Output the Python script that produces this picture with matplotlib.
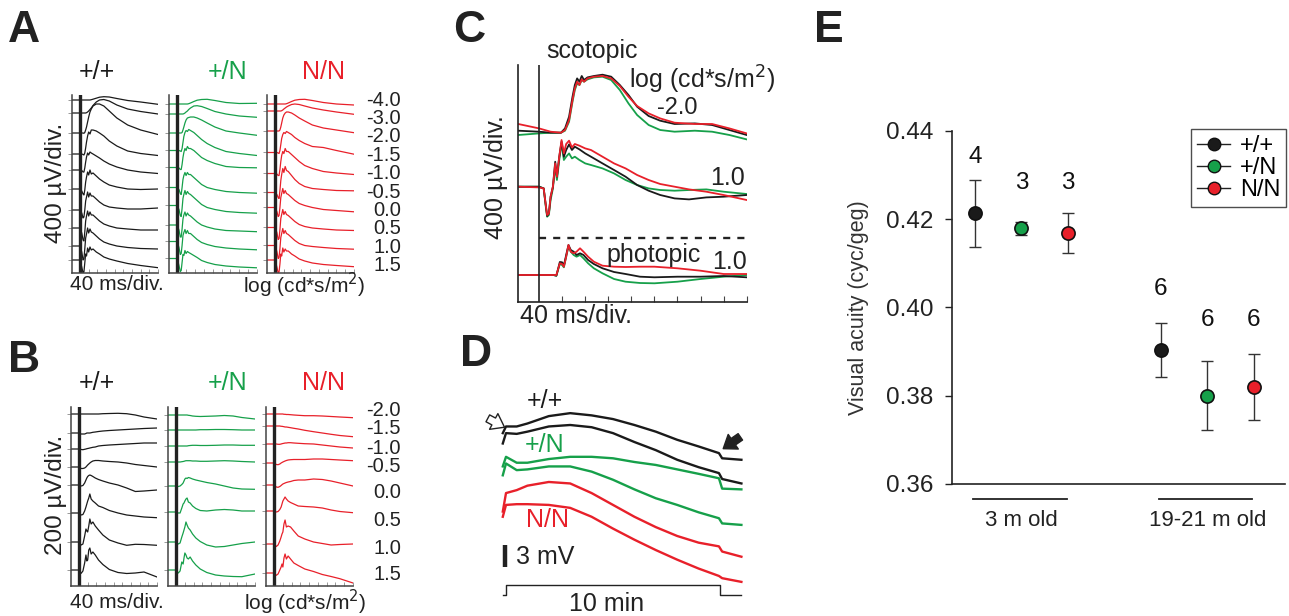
import numpy as np
import matplotlib
matplotlib.use("Agg")
import matplotlib.pyplot as plt
from matplotlib.lines import Line2D

plt.rcParams['font.family'] = ['Liberation Sans', 'DejaVu Sans']

W, H = 1289, 616
BLACK, GREEN, RED = "#1a1a1a", "#16a04a", "#e8202a"
genotypes = ["+/+", "+/N", "N/N"]

# ── A: scotopic ERG, 400 µV/div ────────────────────────────────────────────
tA = [-37, 0, 8, 14, 18, 22, 26, 30, 35, 40, 46, 52, 60, 75, 90, 110, 135, 170, 220, 280, 360]
intens_A = ["-4.0", "-3.0", "-2.0", "-1.5", "-1.0", "-0.5", "0.0", "0.5", "1.0", "1.5"]
offA_wt = [3460, 3200, 2800, 2380, 2060, 1680, 1260, 900, 540, 260]
offA_het = [3380, 3180, 2800, 2450, 2110, 1710, 1350, 960, 630, 290]
offA_hom = [3380, 3240, 2840, 2410, 1990, 1610, 1310, 910, 550, 260]
A_wt = [
    [0, 0, 0, 0, 0, 0, 0, 0, 0, 0, 0, 6, 16, 36, 56, 66, 60, 30, -10, -40, -86],
    [0, 0, 0, 0, 0, 0, 0, 6, 20, 40, 70, 100, 150, 220, 260, 270, 240, 160, 80, 30, -20],
    [0, 0, 0, 0, -6, 10, 60, 120, 220, 320, 420, 480, 540, 580, 580, 540, 440, 300, 160, 60, -30],
    [0, 0, 0, -10, -20, 20, 120, 240, 360, 440, 400, 480, 480, 460, 420, 360, 260, 160, 60, 10, -30],
    [0, 0, -10, -40, -40, 40, 160, 260, 340, 300, 360, 340, 320, 280, 240, 180, 120, 60, 0, -40, -70],
    [0, 0, -40, -100, -120, -20, 140, 240, 340, 280, 380, 300, 320, 260, 200, 140, 80, 40, 0, -10, 0],
    [0, 0, -60, -160, -140, 0, 180, 260, 360, 260, 340, 280, 280, 220, 160, 100, 60, 40, 20, 20, 40],
    [0, 0, -100, -240, -260, -80, 140, 240, 340, 240, 320, 260, 260, 200, 140, 80, 40, 0, -20, -40, -40],
    [0, 0, -120, -280, -260, -60, 160, 240, 360, 260, 340, 280, 260, 200, 140, 80, 40, 0, -30, -50, -60],
    [0, 0, -140, -260, -240, -60, 120, 80, 240, 160, 260, 200, 220, 160, 120, 60, 20, -20, -70, -110, -154],
]
A_het = [
    [0, 0, 0, 0, 0, 0, 0, 0, 0, 0, 0, 6, 20, 50, 76, 90, 94, 70, 30, 10, 14],
    [0, 0, 0, 0, 0, 0, 0, 6, 20, 40, 60, 90, 120, 160, 166, 150, 110, 50, 0, -40, -66],
    [0, 0, 0, 0, 0, 10, 60, 120, 200, 260, 300, 310, 320, 320, 300, 260, 200, 120, 40, 0, -46],
    [0, 0, 0, -10, -20, 40, 160, 280, 360, 400, 380, 420, 400, 360, 300, 220, 140, 60, -20, -60, -100],
    [0, 0, -10, -40, -40, 60, 200, 300, 380, 340, 420, 380, 380, 340, 280, 200, 140, 80, 20, 0, -6],
    [0, 0, -40, -120, -140, 0, 160, 240, 300, 240, 300, 260, 260, 200, 140, 60, 0, -40, -80, -100, -114],
    [0, 0, -80, -200, -220, -60, 140, 220, 300, 220, 280, 240, 220, 160, 100, 20, -40, -80, -120, -140, -154],
    [0, 0, -100, -240, -240, -80, 120, 200, 260, 180, 240, 200, 180, 120, 60, 0, -40, -80, -110, -120, -134],
    [0, 0, -120, -260, -240, -80, 120, 180, 240, 160, 220, 160, 160, 100, 40, -20, -60, -100, -130, -150, -166],
    [0, 0, -140, -260, -240, -80, 80, 60, 160, 100, 140, 120, 100, 60, 20, -40, -80, -120, -150, -170, -186],
]
A_hom = [
    [0, 0, 0, 0, 0, 0, 0, 0, 0, 0, 0, 6, 20, 50, 76, 90, 94, 70, 30, 0, -20],
    [0, 0, 0, 0, 0, 0, 0, 6, 20, 40, 60, 80, 100, 130, 140, 130, 100, 60, 20, -20, -66],
    [0, 0, 0, 0, 0, 20, 80, 160, 260, 320, 360, 380, 380, 360, 320, 260, 200, 120, 60, 20, -34],
    [0, 0, 0, -10, -20, 40, 160, 280, 360, 400, 380, 420, 400, 360, 300, 240, 180, 120, 100, 40, -34],
    [0, 0, -10, -40, -40, 80, 240, 360, 440, 400, 500, 440, 440, 380, 320, 240, 160, 100, 40, 10, -20],
    [0, 0, -40, -100, -120, 40, 240, 360, 480, 400, 520, 440, 420, 340, 260, 180, 120, 80, 60, 40, 34],
    [0, 0, -80, -180, -160, 0, 200, 280, 380, 280, 340, 280, 260, 200, 140, 80, 40, 0, -40, -60, -86],
    [0, 0, -100, -240, -220, -40, 180, 260, 360, 260, 320, 260, 240, 180, 120, 60, 20, -10, -30, -50, -60],
    [0, 0, -120, -260, -240, -60, 160, 240, 340, 240, 300, 240, 220, 160, 100, 40, 0, -20, -40, -60, -74],
    [0, 0, -140, -260, -240, -80, 120, 80, 240, 160, 220, 180, 180, 120, 80, 20, -20, -60, -90, -110, -134],
]

# ── B: photopic ERG, 200 µV/div ────────────────────────────────────────────
tB = [-37, 0, 10, 18, 26, 32, 36, 40, 45, 50, 56, 64, 75, 90, 110, 140, 180, 220, 260, 300, 360]
intens_B = ["-2.0", "-1.5", "-1.0", "-0.5", "0.0", "0.5", "1.0", "1.5"]
offB_wt = [1720, 1530, 1370, 1190, 1010, 730, 440, 160]
offB_het = [1710, 1560, 1400, 1240, 1000, 740, 440, 160]
offB_hom = [1720, 1600, 1420, 1230, 1010, 750, 420, 130]
B_wt = [
    [0, 0, 0, 0, 0, 0, 0, 0, 0, 0, 0, 0, 0, 0, 3, 5, 7, 3, -10, -30, -50],
    [0, 0, -10, -10, -10, -5, 0, 0, 0, 0, 3, 7, 10, 15, 20, 25, 30, 35, 40, 45, 50],
    [0, 0, -5, -7, -3, 0, 3, 5, 7, 10, 13, 17, 20, 30, 35, 40, 45, 50, 55, 60, 60],
    [0, 0, -15, -15, -10, 0, 10, 20, 30, 40, 50, 60, 65, 65, 60, 55, 50, 40, 25, 15, 0],
    [0, 0, -10, -5, 20, 50, 70, 85, 95, 100, 95, 85, 70, 55, 40, 20, 0, -30, -65, -60, -50],
    [0, 0, -20, -15, 20, 60, 90, 120, 150, 190, 140, 120, 100, 70, 55, 25, 0, -20, -30, -40, -47],
    [0, 0, -30, -20, 60, 130, 110, 100, 160, 230, 180, 200, 160, 120, 70, 20, -10, -33, -23, -25, -33],
    [0, 0, -33, -10, 70, 150, 90, 100, 200, 220, 160, 180, 150, 100, 55, 5, -25, -35, -30, -20, -70],
]
B_het = [
    [0, 0, 0, 0, 0, 0, 0, 0, 0, 0, -3, -5, -10, -13, -15, -13, -10, -5, -10, -25, -40],
    [0, 0, 0, 0, 0, 0, 0, 0, 0, 0, 0, 0, 0, 0, 3, 3, 5, 5, 3, 0, 0],
    [0, 0, 0, 0, 0, 0, 0, 0, 0, 0, 3, 5, 7, 7, 5, 5, 7, 10, 10, 7, 7],
    [0, 0, 0, 0, 3, 5, 7, 10, 13, 13, 13, 13, 10, 10, 7, 7, 10, 13, 10, 5, 0],
    [0, 0, -5, 0, 15, 30, 50, 70, 80, 75, 85, 80, 70, 60, 50, 35, 20, 0, -20, -30, -33],
    [0, 0, -10, -10, 40, 80, 90, 110, 130, 140, 100, 90, 60, 35, 15, 10, 20, 25, 20, 10, 10],
    [0, 0, -20, -10, 50, 90, 120, 150, 200, 170, 140, 120, 80, 40, 5, -30, -50, -45, -30, -15, 0],
    [0, 0, -30, -10, 80, 60, 120, 170, 150, 120, 110, 130, 90, 50, 10, -25, -50, -60, -65, -67, -40],
]
B_hom = [
    [0, 0, 0, 0, 0, 0, 0, 0, -3, -3, -5, -5, -7, -10, -13, -17, -17, -20, -25, -30, -37],
    [0, 0, 0, 0, 0, -3, -3, -5, -7, -10, -10, -13, -17, -23, -30, -43, -57, -70, -83, -95, -107],
    [0, 0, 0, -3, -3, 0, 3, 5, 7, 10, 10, 13, 13, 10, 7, 3, 0, -10, -20, -30, -40],
    [0, 0, -15, -17, -10, 0, 5, 10, 15, 20, 25, 30, 33, 35, 35, 35, 40, 40, 35, 30, 23],
    [0, 0, -20, -23, -15, -5, 3, 10, 15, 20, 25, 30, 35, 45, 50, 50, 60, 55, 40, 20, -10],
    [0, 0, -10, -5, 15, 40, 70, 100, 120, 140, 120, 100, 85, 70, 50, 45, 40, 30, 10, -5, -17],
    [0, 0, -25, -10, 30, 70, 100, 120, 200, 240, 170, 180, 170, 130, 80, 50, 20, 5, -10, -5, 0],
    [0, 0, -23, -10, 30, 60, 90, 60, 150, 190, 140, 170, 140, 100, 75, 40, 15, -15, -35, -57, -100],
]

# ── C: overlaid averages (µV) ──────────────────────────────────────────────
tC_sc2 = [-36, 0, 20, 38, 45, 52, 58, 62, 66, 70, 74, 78, 84, 95, 110, 125, 140, 155, 170, 190, 210, 235, 270, 300, 330, 360]
C_sc2 = {
    "+/+": [20, 10, 0, 0, 43, 160, 360, 477, 543, 510, 567, 527, 553, 567, 580, 560, 477, 377, 260, 167, 120, 87, 93, 77, 27, -23],
    "+/N": [-23, -7, 0, 0, 20, 110, 310, 427, 493, 477, 527, 510, 533, 553, 560, 527, 427, 293, 177, 77, 27, 10, 20, 10, -23, -67],
    "N/N": [87, 43, 10, 0, 27, 127, 327, 443, 510, 477, 533, 510, 543, 560, 567, 543, 467, 360, 267, 193, 143, 100, 87, 87, 43, -7],
}
tC_sc1 = [-36, 0, 8, 12, 14, 17, 20, 24, 28, 31, 35, 39, 43, 47, 52, 57, 62, 70, 80, 90, 110, 130, 150, 170, 190, 210, 235, 260, 290, 320, 360]
C_sc1 = {
    "+/+": [0, 0, -17, -200, -293, -267, -100, 0, 250, 100, 300, 450, 300, 367, 423, 367, 400, 373, 333, 300, 233, 167, 100, 17, -40, -83, -117, -127, -107, -100, -83],
    "+/N": [0, 0, -17, -217, -300, -283, -133, -17, 200, 67, 267, 433, 267, 300, 333, 283, 300, 267, 233, 217, 183, 133, 67, 17, -17, -33, -40, -33, -27, -50, -73],
    "N/N": [0, -7, -17, -200, -283, -267, -100, 0, 233, 100, 300, 467, 333, 427, 460, 393, 427, 410, 383, 367, 300, 233, 183, 117, 67, 27, 0, -27, -50, -83, -133],
}
tC_ph = [-36, 0, 25, 30, 36, 40, 43, 47, 51, 55, 60, 65, 71, 77, 85, 95, 110, 130, 150, 175, 200, 240, 280, 320, 360]
C_ph = {
    "+/+": [0, 0, 0, -7, 130, 127, 93, 200, 300, 250, 233, 200, 217, 200, 150, 110, 67, 30, 10, -17, -23, -17, -17, -10, -23],
    "+/N": [0, 0, 0, -7, 110, 100, 77, 183, 283, 233, 200, 183, 200, 167, 117, 67, 17, -40, -67, -80, -83, -67, -40, -17, 0],
    "N/N": [0, 0, 0, 0, 117, 110, 83, 183, 300, 233, 217, 233, 267, 233, 183, 133, 93, 83, 80, 83, 83, 67, 43, 10, 10],
}
offC = [1690, 1150, 267]

# ── D: DC-ERG / c-wave (mV) over 10 min light ──────────────────────────────
tD = [-0.15, 0, 0.5, 1, 2, 3, 4, 5, 6, 7, 8, 9, 9.95, 10.1, 11]
D_traces = [
    ("+/+", [22.1, 23.0, 23.0, 23.4, 24.4, 24.8, 24.5, 24.0, 23.2, 22.3, 21.2, 20.3, 19.4, 18.7, 18.5]),
    ("+/+", [20.7, 22.1, 22.0, 22.3, 23.0, 23.2, 22.9, 22.1, 20.9, 19.8, 18.5, 17.5, 16.7, 15.9, 15.3]),
    ("+/N", [17.6, 18.9, 18.1, 18.1, 18.6, 18.9, 18.9, 18.7, 18.2, 17.8, 17.2, 16.6, 16.0, 14.6, 14.5]),
    ("+/N", [16.4, 18.0, 17.1, 17.2, 17.6, 17.6, 16.9, 15.8, 14.5, 13.3, 12.4, 11.4, 10.6, 9.9, 9.7]),
    ("N/N", [11.5, 14.0, 14.4, 15.0, 15.5, 15.3, 14.0, 12.4, 10.8, 9.4, 8.2, 7.3, 6.8, 6.1, 5.4]),
    ("N/N", [10.8, 12.4, 12.5, 12.5, 12.4, 12.0, 10.8, 9.2, 7.7, 6.3, 5.0, 3.8, 2.8, 2.5, 2.0]),
]
stim_on, stim_off = 0, 10

# ── E: visual acuity ───────────────────────────────────────────────────────
age_groups = ["3 m old", "19-21 m old"]
acuity = {"3 m old": [0.4213, 0.4179, 0.4169], "19-21 m old": [0.3903, 0.3800, 0.3820]}
acuity_sem = {"3 m old": [0.0076, 0.0015, 0.0045], "19-21 m old": [0.0061, 0.0078, 0.0074]}
n_mice = {"3 m old": [4, 3, 3], "19-21 m old": [6, 6, 6]}
n_label_y = {"3 m old": [0.434, 0.4282, 0.4282], "19-21 m old": [0.4041, 0.3971, 0.3971]}
x_pos = {"3 m old": [1, 2, 3], "19-21 m old": [5, 6, 7]}

gcol = {"+/+": BLACK, "+/N": GREEN, "N/N": RED}
INK = "#222222"

fig = plt.figure(figsize=(W / 100, H / 100), dpi=100)


def px_axes(x0, y0, x1, y1):
    return fig.add_axes([x0 / W, 1 - y1 / H, (x1 - x0) / W, (y1 - y0) / H])


def ftext(x, y, s, **kw):
    kw.setdefault("ha", "center")
    kw.setdefault("va", "center")
    kw.setdefault("color", INK)
    fig.text(x / W, 1 - y / H, s, **kw)


def erg_panel(ax, t, traces, offsets, color, ylim):
    for tr, off in zip(traces, offsets):
        ax.plot(t, np.array(tr) + off, color=color, lw=0.9)
    ax.axvline(0, color=INK, lw=2.4)
    ax.set_xlim(-37, 360)
    ax.set_ylim(*ylim)
    for s in ("top", "right"):
        ax.spines[s].set_visible(False)
    for s in ("left", "bottom"):
        ax.spines[s].set_color("#444444")
        ax.spines[s].set_linewidth(1.1)
    ax.set_xticks(np.arange(40, 361, 40))
    ax.set_yticks(offsets)
    ax.tick_params(axis="x", direction="in", length=3, width=0.6, color="#888888", labelbottom=False)
    ax.tick_params(axis="y", direction="out", length=3, width=0.6, color="#888888", labelleft=False)


LBL = 15
GT = 18
INT = 14.5
LET = 32

# panel A
xs_sub = [(72, 158), (169, 257), (267, 354)]
for (x0, x1), tr, off, g in zip(xs_sub, [A_wt, A_het, A_hom], [offA_wt, offA_het, offA_hom], genotypes):
    ax = px_axes(x0, 95, x1, 273)
    erg_panel(ax, tA, tr, off, gcol[g], (0, 3560))
for g, x in zip(genotypes, [97, 228, 323]):
    ftext(x, 72, g, color=gcol[g], fontsize=GT)
for i, lab in enumerate(intens_A):
    ftext(401, 100 + i * 18.4, lab, ha="right", fontsize=INT)
ftext(8, 31, "A", fontsize=LET, fontweight="bold", ha="left")
ftext(56, 183, "400 µV/div.", rotation=90, fontsize=17.5)
ftext(117, 285, "40 ms/div.", fontsize=LBL)
ftext(304, 285, "log (cd*s/m$^2$)", fontsize=LBL)

# panel B
xs_sub = [(71, 157), (168, 255), (266, 353)]
for (x0, x1), tr, off, g in zip(xs_sub, [B_wt, B_het, B_hom], [offB_wt, offB_het, offB_hom], genotypes):
    ax = px_axes(x0, 407, x1, 586)
    erg_panel(ax, tB, tr, off, gcol[g], (0, 1790))
for g, x in zip(genotypes, [97, 228, 323]):
    ftext(x, 383, g, color=gcol[g], fontsize=GT)
for lab, y in zip(intens_B, [410, 429, 448, 467, 493, 520, 548, 575]):
    ftext(401, y, lab, ha="right", fontsize=INT)
ftext(8, 360, "B", fontsize=LET, fontweight="bold", ha="left")
ftext(56, 495, "200 µV/div.", rotation=90, fontsize=17.5)
ftext(117, 602, "40 ms/div.", fontsize=LBL)
ftext(305, 602, "log (cd*s/m$^2$)", fontsize=LBL)

# panel C
axc = px_axes(518.3, 65, 746.7, 301.7)
for tt, group, off in zip([tC_sc2, tC_sc1, tC_ph], [C_sc2, C_sc1, C_ph], offC):
    for g in ["+/N", "+/+", "N/N"]:
        axc.plot(tt, np.array(group[g]) + off, color=gcol[g], lw=1.3)
axc.axvline(0, color=INK, lw=1.2)
axc.hlines(634, 0, 360, colors=INK, linestyles=(0, (3, 3)), lw=1.7)
axc.set_xlim(-36, 360)
axc.set_ylim(0, 2367)
for s in ("top", "right"):
    axc.spines[s].set_visible(False)
for s in ("left", "bottom"):
    axc.spines[s].set_color(INK)
    axc.spines[s].set_linewidth(1.2)
axc.set_xticks(np.arange(40, 361, 40))
axc.set_yticks([])
axc.tick_params(axis="x", direction="in", length=4, width=0.8, color="#444444", labelbottom=False)
CF = 18
ftext(453, 31, "C", fontsize=LET, fontweight="bold", ha="left")
ftext(592, 51, "scotopic", fontsize=CF)
ftext(702, 80, "log (cd*s/m$^2$)", fontsize=CF)
ftext(677, 108, "-2.0", fontsize=CF - 1)
ftext(728, 178, "1.0", fontsize=CF)
ftext(654, 255, "photopic", fontsize=CF)
ftext(730, 262, "1.0", fontsize=CF)
ftext(576, 316, "40 ms/div.", fontsize=CF)
ftext(496, 177, "400 µV/div.", rotation=90, fontsize=CF)

# panel D
axd = px_axes(495, 380, 745, 612)
for g, tr in D_traces:
    axd.plot(tD, tr, color=gcol[g], lw=1.7)
axd.set_xlim(-0.514, 11.168)
axd.set_ylim(-2.07, 29.28)
axd.axis("off")
lo, hi = 0.23, 1.58
axd.plot([tD[0], stim_on, stim_on, stim_off, stim_off, tD[-1]], [lo, lo, hi, hi, lo, lo],
         color=INK, lw=1.0, clip_on=False)
axd.plot([-0.05, -0.05], [4.0, 7.0], color=INK, lw=3.2, solid_capstyle="butt")
axd.text(0.45, 5.4, "3 mV", fontsize=CF, va="center", ha="left", color=INK)
axd.text(4.72, -1.0, "10 min", fontsize=CF, va="center", ha="center", color=INK)
axd.text(1.82, 26.4, "+/+", fontsize=CF, va="center", ha="center", color=BLACK)
axd.text(1.82, 20.5, "+/N", fontsize=CF, va="center", ha="center", color=GREEN)
axd.text(1.96, 10.4, "N/N", fontsize=CF, va="center", ha="center", color=RED)
axd.annotate("", xy=(-0.07, 22.9), xytext=(-0.85, 24.1), annotation_clip=False,
             arrowprops=dict(arrowstyle="simple,head_length=0.55,head_width=0.8,tail_width=0.35",
                             mutation_scale=16, fc="white", ec=INK, lw=1.0, shrinkA=0, shrinkB=0))
axd.annotate("", xy=(10.15, 20.0), xytext=(10.95, 21.6), annotation_clip=False,
             arrowprops=dict(arrowstyle="simple,head_length=0.55,head_width=0.8,tail_width=0.35",
                             mutation_scale=16, fc=INK, ec=INK, lw=1.0, shrinkA=0, shrinkB=0))
ftext(460, 354, "D", fontsize=LET, fontweight="bold", ha="left")

# panel E
axe = px_axes(951.7, 130.7, 1285, 484)
for grp in age_groups:
    for k, g in enumerate(genotypes):
        x = x_pos[grp][k]
        axe.errorbar(x, acuity[grp][k], yerr=acuity_sem[grp][k], fmt="none",
                     ecolor="#333333", elinewidth=1.0, capsize=4, capthick=1.0, zorder=2)
        axe.plot(x, acuity[grp][k], "o", ms=9.5, mfc=gcol[g], mec="#111111", mew=1.2, zorder=3)
        axe.text(x, n_label_y[grp][k], str(n_mice[grp][k]), fontsize=17.5, ha="center", va="center",
                 color="#111111")
    xs = x_pos[grp]
    axe.plot([xs[0] - 0.05, xs[-1] - 0.03], [0.3565, 0.3565], color=INK, lw=1.3, clip_on=False)
    axe.text(np.mean(xs), 0.3518, grp, fontsize=16, ha="center", va="center", color=INK)
axe.set_xlim(0.5, 7.67)
axe.set_ylim(0.36, 0.44)
axe.set_yticks([0.36, 0.38, 0.40, 0.42, 0.44])
axe.set_yticklabels(["0.36", "0.38", "0.40", "0.42", "0.44"])
axe.set_xticks([])
for s in ("top", "right"):
    axe.spines[s].set_visible(False)
for s in ("left", "bottom"):
    axe.spines[s].set_color(INK)
    axe.spines[s].set_linewidth(1.2)
axe.tick_params(axis="y", direction="out", length=5, width=1.0, labelsize=17.5, colors=INK, pad=8)
axe.set_ylabel("Visual acuity (cyc/geg)", fontsize=15.5, color="#333333", labelpad=12)
handles = [Line2D([], [], color=INK, lw=1.0, marker="o", ms=9, mfc=gcol[g], mec="#111111")
           for g in genotypes]
leg = axe.legend(handles, genotypes, loc="upper right", bbox_to_anchor=(1286 / W, 1 - 129 / H),
                 bbox_transform=fig.transFigure, fontsize=17, frameon=True, fancybox=False,
                 handlelength=1.4, handletextpad=0.4, labelspacing=0.0, borderpad=0.25, borderaxespad=0)
leg.get_frame().set_edgecolor(INK)
leg.get_frame().set_linewidth(1.0)
ftext(814, 31, "E", fontsize=LET, fontweight="bold", ha="left")

fig.savefig("out.png", dpi=100)
